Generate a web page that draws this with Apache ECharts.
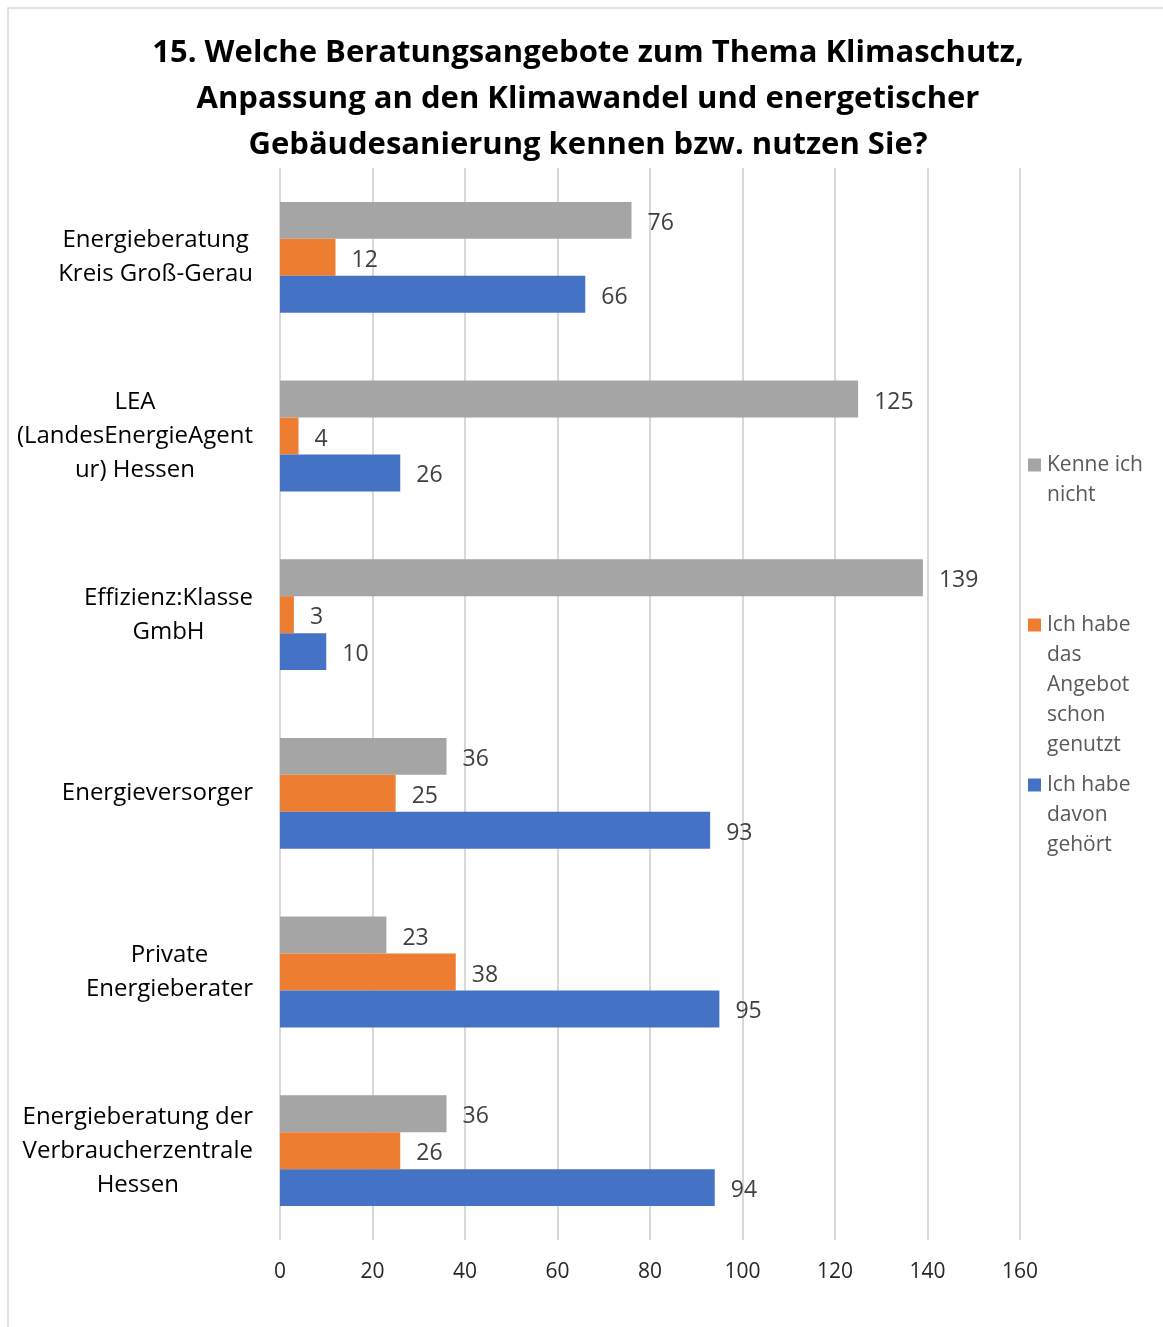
<!DOCTYPE html>
<html style="height: 100%">
<head>
<meta charset="utf-8" />
<title>Beratungsangebote</title>
<script type="text/javascript" src="https://cdn.jsdelivr.net/npm/echarts@6/dist/echarts.min.js"></script>
</head>
<body style="height: 100%; margin: 0;">
<div id="container" style="width: 1163px; height: 1327px;"></div>
<script type="text/javascript">
// Kategorien (von oben nach unten)
var categories = [
    'Energieberatung\nKreis Groß-Gerau',
    'LEA\n(LandesEnergieAgent\nur) Hessen',
    'Effizienz:Klasse\nGmbH',
    'Energieversorger',
    'Private\nEnergieberater',
    'Energieberatung der\nVerbraucherzentrale\nHessen'
];
var seriesNames = ['Kenne ich nicht', 'Ich habe das Angebot schon genutzt', 'Ich habe davon gehört'];
var legendLines = [
    ['Kenne ich', 'nicht'],
    ['Ich habe', 'das', 'Angebot', 'schon', 'genutzt'],
    ['Ich habe', 'davon', 'gehört']
];
var kenneNicht = [76, 125, 139, 36, 23, 36];
var genutzt = [12, 4, 3, 25, 38, 26];
var gehoert = [66, 26, 10, 93, 95, 94];
var xTicks = [0, 20, 40, 60, 80, 100, 120, 140, 160];

var colors = ['#a5a5a5', '#ed7d31', '#4472c4'];
var font = 'Open Sans';

var myChart = echarts.init(document.getElementById('container'));

function makeSeries(name, data, color) {
    return {
        name: name,
        type: 'bar',
        data: data,
        barGap: '0%',
        barCategoryGap: '38%',
        itemStyle: { color: color },
        label: {
            show: true,
            position: 'right',
            distance: 16,
            offset: [0, 3],
            fontFamily: font,
            fontSize: 23,
            color: '#404040'
        }
    };
}

// Legende: drei einzelne Bloecke, Quadrat auf der ersten Zeile
var legendTops = [450, 610, 770];
var legends = seriesNames.map(function (name, i) {
    var rich = {
        sq: { width: 13, height: 13, backgroundColor: colors[i] },
        gap: { width: 6 },
        ind: { width: 19 },
        t: { fontFamily: font, fontSize: 21, color: '#595959', lineHeight: 30 }
    };
    return {
        data: [name],
        orient: 'vertical',
        left: 1023,
        top: legendTops[i],
        padding: 0,
        itemWidth: 0,
        itemHeight: 0,
        selectedMode: false,
        formatter: function () {
            return legendLines[i].map(function (line, k) {
                return (k === 0 ? '{sq|}{gap|}' : '{ind|}') + '{t|' + line + '}';
            }).join('\n');
        },
        textStyle: { rich: rich, lineHeight: 30 }
    };
});

var option = {
    animation: false,
    backgroundColor: '#ffffff',
    title: {
        text: '15. Welche Beratungsangebote zum Thema Klimaschutz,\nAnpassung an den Klimawandel und energetischer\nGebäudesanierung kennen bzw. nutzen Sie?',
        left: 588,
        textAlign: 'center',
        top: 30,
        padding: 0,
        textStyle: {
            fontFamily: font,
            fontWeight: 'bold',
            fontSize: 31,
            lineHeight: 46,
            color: '#000000'
        }
    },
    legend: legends,
    grid: { left: 280, right: 143, top: 168, bottom: 87 },
    xAxis: {
        type: 'value',
        min: 0,
        max: 160,
        interval: 20,
        axisLine: { show: false },
        axisTick: { show: false },
        splitLine: { show: true, lineStyle: { color: '#d9d9d9', width: 2 } },
        axisLabel: {
            margin: 22,
            fontFamily: font,
            fontSize: 21,
            color: '#262626',
            formatter: function (v) { return xTicks.indexOf(v) >= 0 ? String(v) : ''; }
        }
    },
    yAxis: {
        type: 'category',
        inverse: true,
        data: categories,
        axisLine: { show: false },
        axisTick: { show: false },
        axisLabel: {
            margin: 27,
            formatter: function (v) {
                return v.split('\n').map(function (l) { return '{c|' + l + '}'; }).join('\n');
            },
            rich: {
                c: { align: 'center', fontFamily: font, fontSize: 24, lineHeight: 34, color: '#000000' }
            }
        }
    },
    graphic: [{
        type: 'rect',
        shape: { x: 8, y: 8, width: 1170, height: 1340 },
        style: { fill: 'none', stroke: '#d9d9d9', lineWidth: 1.5 },
        silent: true
    }],
    series: [
        makeSeries(seriesNames[0], kenneNicht, colors[0]),
        makeSeries(seriesNames[1], genutzt, colors[1]),
        makeSeries(seriesNames[2], gehoert, colors[2])
    ]
};
myChart.setOption(option);
</script>
</body>
</html>
